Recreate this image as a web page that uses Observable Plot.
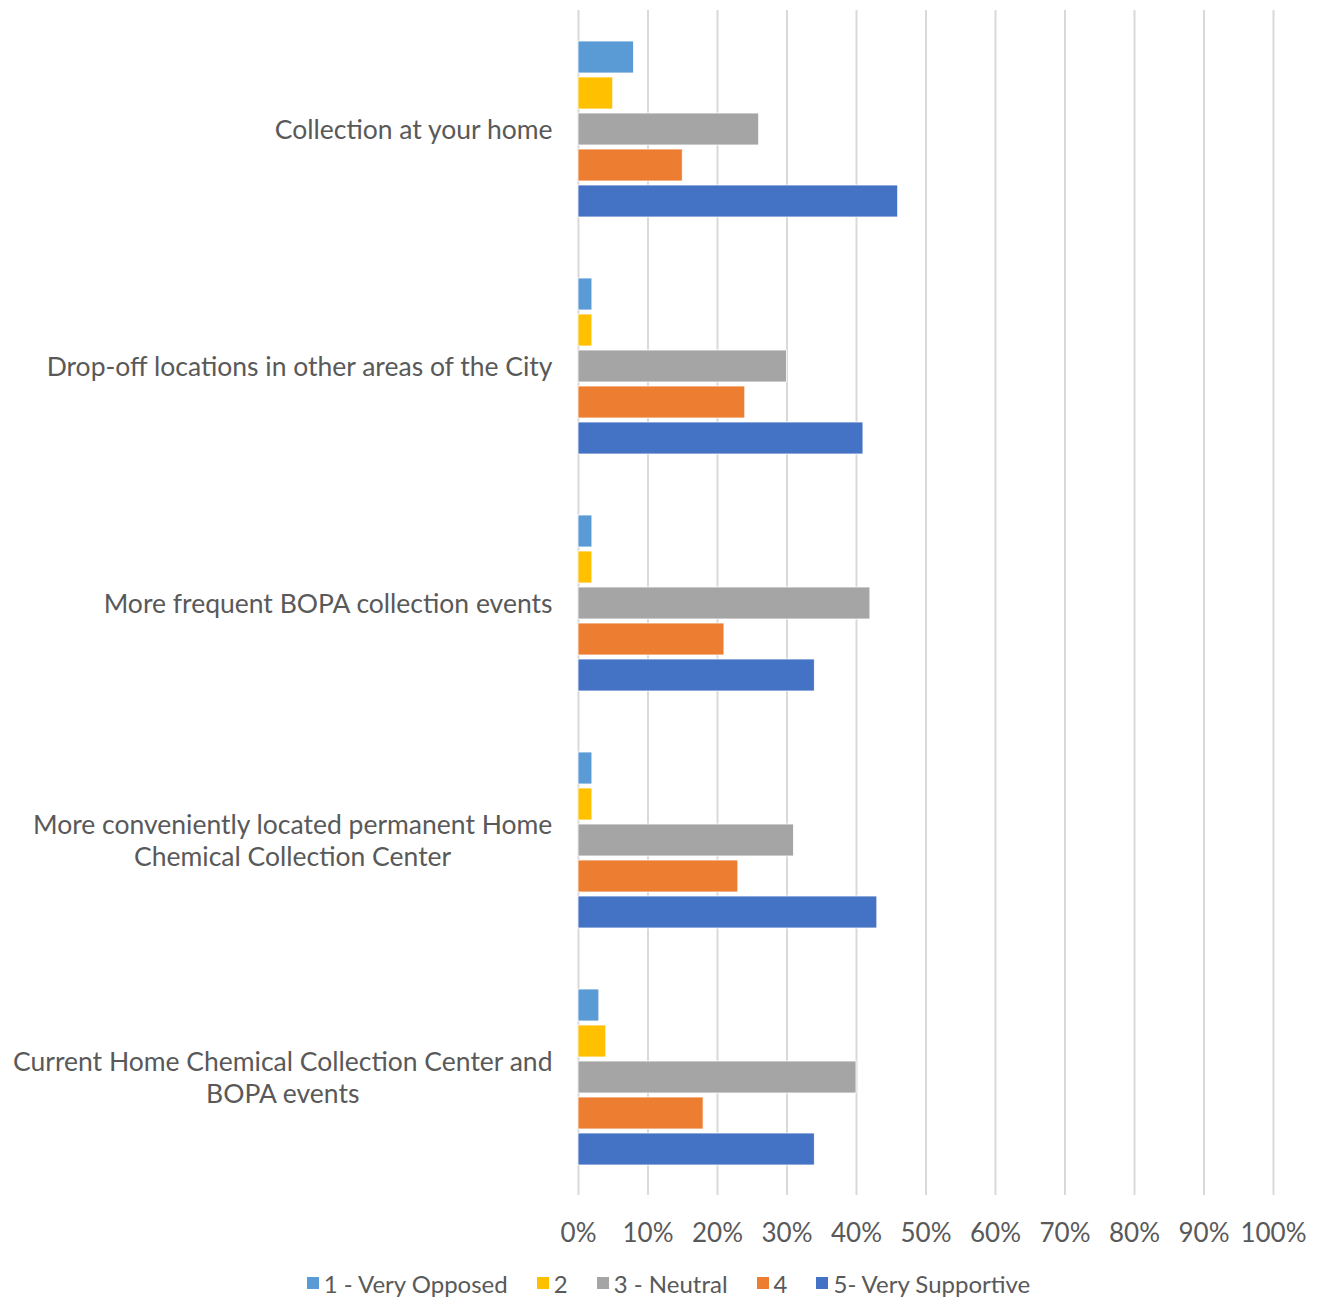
<!DOCTYPE html>
<html>
<head>
<meta charset="utf-8">
<script src="https://cdn.jsdelivr.net/npm/d3@7"></script>
<script src="https://cdn.jsdelivr.net/npm/@observablehq/plot@0.6"></script>
<style>
  html, body { margin: 0; padding: 0; background: #fff; }
  #chart { width: 1322px; font-family: Lato, "Open Sans", sans-serif; color: #595959; }
  #legend > div { justify-content: center !important; margin: 0 !important; padding-left: 44px; min-height: 30px !important; }
  #legend span { margin-right: 29px !important; font-size: 24px !important; color: #595959; }
  #legend span svg { margin-right: 5px !important; }
</style>
</head>
<body>
<div id="chart"></div>
<script>
// ---- data ----
const categories = [
  "Collection at your home",
  "Drop-off locations in other areas of the City",
  "More frequent BOPA collection events",
  "More conveniently located permanent Home Chemical Collection Center",
  "Current Home Chemical Collection Center and BOPA events"
];
const categoryLabels = [
  "Collection at your home",
  "Drop-off locations in other areas of the City",
  "More frequent BOPA collection events",
  "More conveniently located permanent Home\nChemical Collection Center",
  "Current Home Chemical Collection Center and\nBOPA events"
];
const seriesNames = ["1 - Very Opposed", "2", "3 - Neutral", "4", "5- Very Supportive"];
const seriesColors = ["#5B9BD5", "#FFC000", "#A5A5A5", "#ED7D31", "#4472C4"];
// values (%) per series, in category order
const veryOpposed    = [8, 2, 2, 2, 3];
const two            = [5, 2, 2, 2, 4];
const neutral        = [26, 30, 42, 31, 40];
const four           = [15, 24, 21, 23, 18];
const verySupportive = [46, 41, 34, 43, 34];
const xTicks = [0, 0.1, 0.2, 0.3, 0.4, 0.5, 0.6, 0.7, 0.8, 0.9, 1.0];

const seriesValues = [veryOpposed, two, neutral, four, verySupportive];
const rows = [];
categories.forEach((c, i) => {
  seriesNames.forEach((s, j) => {
    rows.push({category: c, series: s, value: seriesValues[j][i] / 100});
  });
});
const labelOf = new Map(categories.map((c, i) => [c, categoryLabels[i]]));

const plot = Plot.plot({
  width: 1322,
  height: 1262,
  marginTop: 8,
  marginBottom: 66,
  marginLeft: 578,
  marginRight: 49,
  style: {fontFamily: "Lato, 'Open Sans', sans-serif", fontSize: "26px", color: "#595959", background: "#fff"},
  x: {domain: [0, 1]},
  y: {domain: seriesNames, paddingInner: 0.114, paddingOuter: 0.83, axis: null},
  fy: {domain: categories, padding: 0},
  color: {domain: seriesNames, range: seriesColors},
  marks: [
    Plot.gridX(xTicks, {stroke: "#d9d9d9", strokeOpacity: 1, strokeWidth: 2}),
    Plot.barX(rows, {x: "value", y: "series", fy: "category", fill: "series", stroke: "#ffffff", strokeWidth: 0.8}),
    Plot.axisX(xTicks, {anchor: "bottom", tickSize: 0, tickPadding: 28, tickFormat: d => Math.round(d * 100) + "%", label: null, fontSize: 26}),
    Plot.axisFy({anchor: "left", tickSize: 0, tickPadding: 26, label: null, tickFormat: d => labelOf.get(d), lineHeight: 1.21, fontSize: 26.5})
  ]
});

const chart = document.getElementById("chart");
chart.appendChild(plot);

// center multi-line category labels on their widest line (right-aligned block)
plot.querySelectorAll("text").forEach(t => {
  const spans = t.querySelectorAll("tspan");
  if (spans.length > 1) {
    const w = t.getBBox().width;
    t.setAttribute("text-anchor", "middle");
    t.style.textAnchor = "middle";
    spans.forEach(s => s.setAttribute("x", -w / 2));
  }
});

const legendWrap = document.createElement("div");
legendWrap.id = "legend";
legendWrap.style.marginTop = "6px";
legendWrap.appendChild(Plot.legend({
  color: {domain: seriesNames, range: seriesColors},
  swatchSize: 12,
  style: {fontFamily: "Lato, 'Open Sans', sans-serif", fontSize: "24px", color: "#595959"}
}));
chart.appendChild(legendWrap);
</script>
</body>
</html>
